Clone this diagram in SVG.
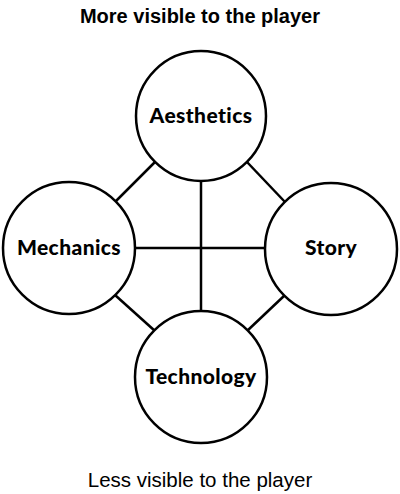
<svg xmlns="http://www.w3.org/2000/svg" width="400" height="494" viewBox="0 0 400 494">
<style>
.node circle{fill:#fff;stroke:#000;stroke-width:2.5}
.node text{font-family:Lato,"Open Sans",sans-serif;font-weight:900;font-size:21px;letter-spacing:0.4px;text-anchor:middle;fill:#000}
.conn line{stroke:#000;stroke-width:2.5}
.cap{font-family:"Liberation Sans",Arial,sans-serif;text-anchor:middle;fill:#000}
</style>
<rect width="400" height="494" fill="#fff"/>
<text class="cap" x="200" y="22.5" font-size="20" font-weight="bold">More visible to the player</text>
<g id="connectors" class="conn">
<line x1="201" y1="181" x2="201" y2="311"/>
<line x1="135" y1="248" x2="265" y2="248"/>
<line x1="155" y1="162" x2="115" y2="202"/>
<line x1="247" y1="162" x2="285" y2="202"/>
<line x1="115" y1="295" x2="155" y2="331"/>
<line x1="285" y1="295" x2="247" y2="331"/>
</g>
<g id="aesthetics" class="node"><circle cx="201" cy="116" r="65"/><text x="201" y="123">Aesthetics</text></g>
<g id="mechanics" class="node"><circle cx="69" cy="248" r="66"/><text x="69" y="255">Mechanics</text></g>
<g id="story" class="node"><circle cx="331" cy="249" r="66"/><text x="331" y="255">Story</text></g>
<g id="technology" class="node"><circle cx="201" cy="377" r="66"/><text x="201" y="384">Technology</text></g>
<text class="cap" x="200" y="486.5" font-size="20.5">Less visible to the player</text>
</svg>
